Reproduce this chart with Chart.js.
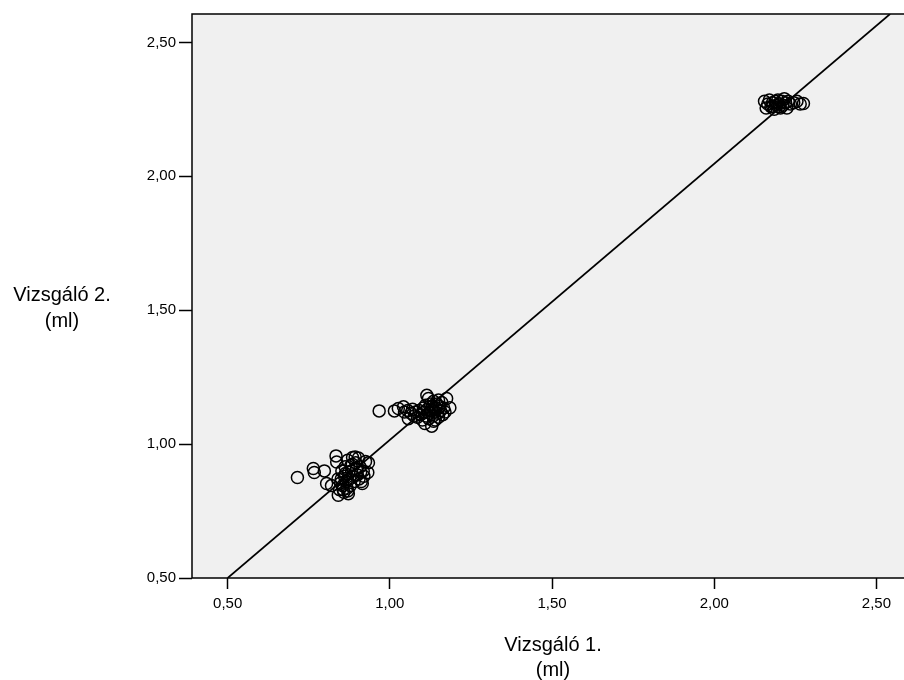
<!DOCTYPE html>
<html>
<head>
<meta charset="utf-8">
<script src="https://cdn.jsdelivr.net/npm/chart.js@4"></script>
<style>
  body { margin: 0; background: #fff; }
  canvas { display: block; }
</style>
</head>
<body>
<canvas id="scatter" width="904" height="680"></canvas>
<script>
// Vizsgáló 1. (x) and Vizsgáló 2. (y), measured volumes in ml
var vizsgalo1 = [
  0.715, 0.764, 0.767, 0.798, 0.805, 0.820, 0.834, 0.836, 0.841, 0.845, 0.850, 0.852, 0.855, 0.858, 0.860, 0.862,
  0.865, 0.868, 0.870, 0.872, 0.873, 0.876, 0.878, 0.880, 0.882, 0.885, 0.887, 0.890, 0.893, 0.895, 0.897, 0.900,
  0.903, 0.905, 0.908, 0.910, 0.912, 0.915, 0.918, 0.920, 0.925, 0.932, 0.934, 0.840, 0.848, 0.856, 0.863, 0.870, 0.884,
  0.967, 1.014, 1.026, 1.042, 1.045, 1.055, 1.057, 1.065, 1.070, 1.075, 1.080, 1.085, 1.090, 1.095, 1.100, 1.103,
  1.106, 1.108, 1.110, 1.112, 1.114, 1.116, 1.119, 1.120, 1.123, 1.125, 1.128, 1.129, 1.131, 1.133, 1.135, 1.138,
  1.140, 1.142, 1.145, 1.148, 1.150, 1.153, 1.156, 1.160, 1.163, 1.166, 1.170, 1.175, 1.185, 1.150, 1.135,
  2.155, 2.160, 2.165, 2.170, 2.175, 2.180, 2.185, 2.188, 2.192, 2.196, 2.200, 2.204, 2.208, 2.212, 2.216, 2.220,
  2.224, 2.228, 2.235, 2.245, 2.255, 2.265, 2.275, 2.180, 2.200
];
var vizsgalo2 = [
  0.875, 0.909, 0.894, 0.900, 0.853, 0.845, 0.956, 0.933, 0.809, 0.830, 0.870, 0.900, 0.845, 0.820, 0.880, 0.915,
  0.860, 0.835, 0.940, 0.815, 0.895, 0.870, 0.845, 0.920, 0.900, 0.950, 0.880, 0.860, 0.952, 0.930, 0.905, 0.885,
  0.948, 0.870, 0.915, 0.895, 0.860, 0.853, 0.900, 0.880, 0.935, 0.894, 0.930, 0.870, 0.855, 0.830, 0.890, 0.825, 0.925,
  1.124, 1.124, 1.133, 1.139, 1.120, 1.125, 1.095, 1.115, 1.130, 1.105, 1.120, 1.100, 1.125, 1.110, 1.090, 1.135,
  1.120, 1.077, 1.145, 1.105, 1.182, 1.130, 1.170, 1.095, 1.115, 1.150, 1.125, 1.067, 1.140, 1.105, 1.160, 1.120,
  1.090, 1.135, 1.150, 1.115, 1.100, 1.140, 1.125, 1.155, 1.110, 1.135, 1.120, 1.170, 1.136, 1.165, 1.085,
  2.280, 2.255, 2.270, 2.285, 2.260, 2.275, 2.250, 2.280, 2.265, 2.285, 2.270, 2.255, 2.280, 2.265, 2.290, 2.275,
  2.255, 2.280, 2.270, 2.275, 2.280, 2.270, 2.272, 2.262, 2.260
];
// reference line end points
var lineX = [0.50, 2.542];
var lineY = [0.50, 2.606];
var xTicks = [0.50, 1.00, 1.50, 2.00, 2.50];
var yTicks = [0.50, 1.00, 1.50, 2.00, 2.50];

var FONT = '"Liberation Sans", Arial, sans-serif';

function fmt(v) { return Number(v).toFixed(2).replace('.', ','); }

var points = vizsgalo1.map(function (x, i) { return { x: x, y: vizsgalo2[i] }; });
var linePts = lineX.map(function (x, i) { return { x: x, y: lineY[i] }; });

var framePlugin = {
  id: 'frame',
  beforeDatasetsDraw: function (chart) {
    var a = chart.chartArea, ctx = chart.ctx;
    ctx.save();
    ctx.fillStyle = '#f0f0f0';
    ctx.fillRect(a.left, a.top, a.right - a.left + 10, a.bottom - a.top);
    ctx.strokeStyle = '#000';
    ctx.lineWidth = 1.5;
    ctx.beginPath();
    ctx.moveTo(a.right + 10, a.top);
    ctx.lineTo(a.left, a.top);
    ctx.lineTo(a.left, a.bottom);
    ctx.lineTo(a.right + 10, a.bottom);
    ctx.stroke();
    ctx.restore();
  },
  afterDraw: function (chart) {
    var ctx = chart.ctx;
    ctx.save();
    ctx.fillStyle = '#000';
    ctx.font = '20px ' + FONT;
    ctx.textAlign = 'center';
    ctx.textBaseline = 'middle';
    ctx.fillText('Vizsgáló 2.', 62, 295);
    ctx.fillText('(ml)', 62, 321);
    ctx.fillText('Vizsgáló 1.', 553, 645);
    ctx.fillText('(ml)', 553, 670);
    ctx.restore();
  }
};

new Chart(document.getElementById('scatter'), {
  type: 'scatter',
  data: {
    datasets: [
      {
        data: points,
        pointStyle: 'circle',
        pointRadius: 6,
        pointHoverRadius: 6,
        borderWidth: 1.5,
        borderColor: '#000',
        backgroundColor: 'rgba(0,0,0,0)'
      },
      {
        data: linePts,
        showLine: true,
        pointRadius: 0,
        borderWidth: 1.7,
        borderColor: '#000',
        fill: false
      }
    ]
  },
  options: {
    responsive: false,
    animation: false,
    layout: { autoPadding: false, padding: { top: 14, left: 0, right: 0, bottom: 0 } },
    plugins: { legend: { display: false }, tooltip: { enabled: false } },
    scales: {
      x: {
        type: 'linear',
        min: 0.39,
        max: 2.585,
        afterBuildTicks: function (s) { s.ticks = xTicks.map(function (v) { return { value: v }; }); },
        afterFit: function (s) { s.height = 102; s.paddingLeft = 0; s.paddingRight = 0; },
        border: { display: false },
        grid: { drawOnChartArea: false, drawTicks: true, tickLength: 11, tickWidth: 1.5, tickColor: '#000', color: '#000' },
        ticks: { callback: fmt, color: '#000', padding: 6, maxRotation: 0, font: { size: 15, family: FONT } }
      },
      y: {
        type: 'linear',
        min: 0.5,
        max: 2.606,
        afterBuildTicks: function (s) { s.ticks = yTicks.map(function (v) { return { value: v }; }); },
        afterFit: function (s) { s.width = 192; s.paddingTop = 0; s.paddingBottom = 0; },
        border: { display: false },
        grid: { drawOnChartArea: false, drawTicks: true, tickLength: 13, tickWidth: 1.5, tickColor: '#000', color: '#000' },
        ticks: { callback: fmt, color: '#000', padding: 3, font: { size: 15, family: FONT } }
      }
    }
  },
  plugins: [framePlugin]
});
</script>
</body>
</html>
